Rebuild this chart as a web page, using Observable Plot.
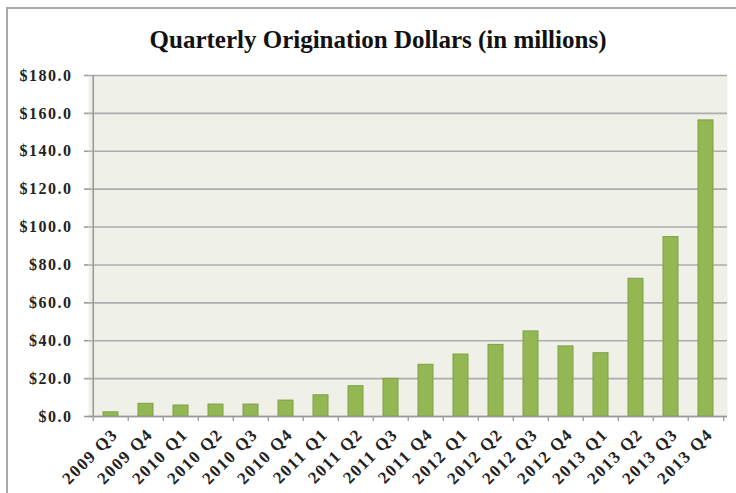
<!DOCTYPE html>
<html>
<head>
<meta charset="utf-8">
<script src="https://cdn.jsdelivr.net/npm/d3@7"></script>
<script src="https://cdn.jsdelivr.net/npm/@observablehq/plot@0.6"></script>
<style>
  html, body { margin: 0; padding: 0; background: #fff; overflow: hidden; }
  #wrap { position: relative; width: 736px; height: 493px; }
  #border { position: absolute; left: 6px; top: 7px; width: 760px; height: 520px;
            border-left: 2px solid #a9a9a9; border-top: 2px solid #a9a9a9; box-sizing: border-box; }
  #title { position: absolute; left: 0; top: 0; width: 736px; height: 60px; box-sizing: border-box;
           padding-top: 27px; padding-left: 20px; text-align: center;
           font-family: "Liberation Serif", serif; font-weight: bold; font-size: 25px; line-height: 25px; color: #111; }
  #chart { position: absolute; left: 0; top: 60px; }
  #chart svg text { letter-spacing: 1.5px; }
</style>
</head>
<body>
<div id="wrap">
  <div id="border"></div>
  <div id="title">Quarterly Origination Dollars (in millions)</div>
  <div id="chart"></div>
</div>
<script>
const quarters = ["2009 Q3","2009 Q4","2010 Q1","2010 Q2","2010 Q3","2010 Q4",
                  "2011 Q1","2011 Q2","2011 Q3","2011 Q4","2012 Q1","2012 Q2",
                  "2012 Q3","2012 Q4","2013 Q1","2013 Q2","2013 Q3","2013 Q4"];
const dollars = [2.2, 6.7, 5.8, 6.3, 6.3, 8.4,
                 11.2, 16.0, 19.9, 27.3, 32.7, 37.8,
                 44.9, 37.0, 33.4, 72.7, 94.7, 156.3];
const yTicks = [0, 20, 40, 60, 80, 100, 120, 140, 160, 180];

const data = quarters.map((q, i) => ({quarter: q, value: dollars[i]}));

const W = 736, H = 433, ML = 88, MR = 9, MT = 15, MB = 77;
const bw = (W - ML - MR) / quarters.length;

const chart = Plot.plot({
  width: W, height: H,
  marginLeft: ML, marginRight: MR, marginTop: MT, marginBottom: MB,
  style: { background: "transparent", fontFamily: "Liberation Serif, serif", fontSize: "16px", overflow: "visible" },
  x: { domain: quarters, padding: 0, label: null },
  y: { domain: [0, 180], label: null },
  marks: [
    Plot.frame({ fill: "#eff1e9", stroke: null }),
    Plot.gridY(yTicks, { stroke: "#adadad", strokeOpacity: 1, strokeWidth: 1.6 }),
    Plot.barY(data, { x: "quarter", y: "value", fill: "#93b753", stroke: "#7f9f45", strokeWidth: 1, insetLeft: 10, insetRight: 10 }),
    Plot.ruleY([0], { stroke: "#9a9a9a", strokeWidth: 1.6 }),
    Plot.ruleX([quarters[0]], { stroke: "#9a9a9a", strokeWidth: 1.6, dx: -bw / 2 }),
    Plot.axisY({ ticks: yTicks, tickFormat: d => "$" + d.toFixed(1), tickSize: 4, tickPadding: 12,
                 stroke: "#9a9a9a", strokeWidth: 1.6, fill: "#222", fontWeight: "bold", fontSize: 16 }),
    Plot.axisX({ ticks: quarters, tickSize: 5, tickFormat: () => "", dx: -bw / 2, stroke: "#9a9a9a", strokeWidth: 1.3 }),
    Plot.axisX({ ticks: [quarters[quarters.length - 1]], tickSize: 5, tickFormat: () => "", dx: bw / 2, stroke: "#9a9a9a", strokeWidth: 1.3 }),
    Plot.axisX({ ticks: quarters, tickSize: 0, tickPadding: 15, dx: 4, tickRotate: -45, fill: "#222", fontWeight: "bold", fontSize: 17 })
  ]
});
document.getElementById("chart").appendChild(chart);
</script>
</body>
</html>
